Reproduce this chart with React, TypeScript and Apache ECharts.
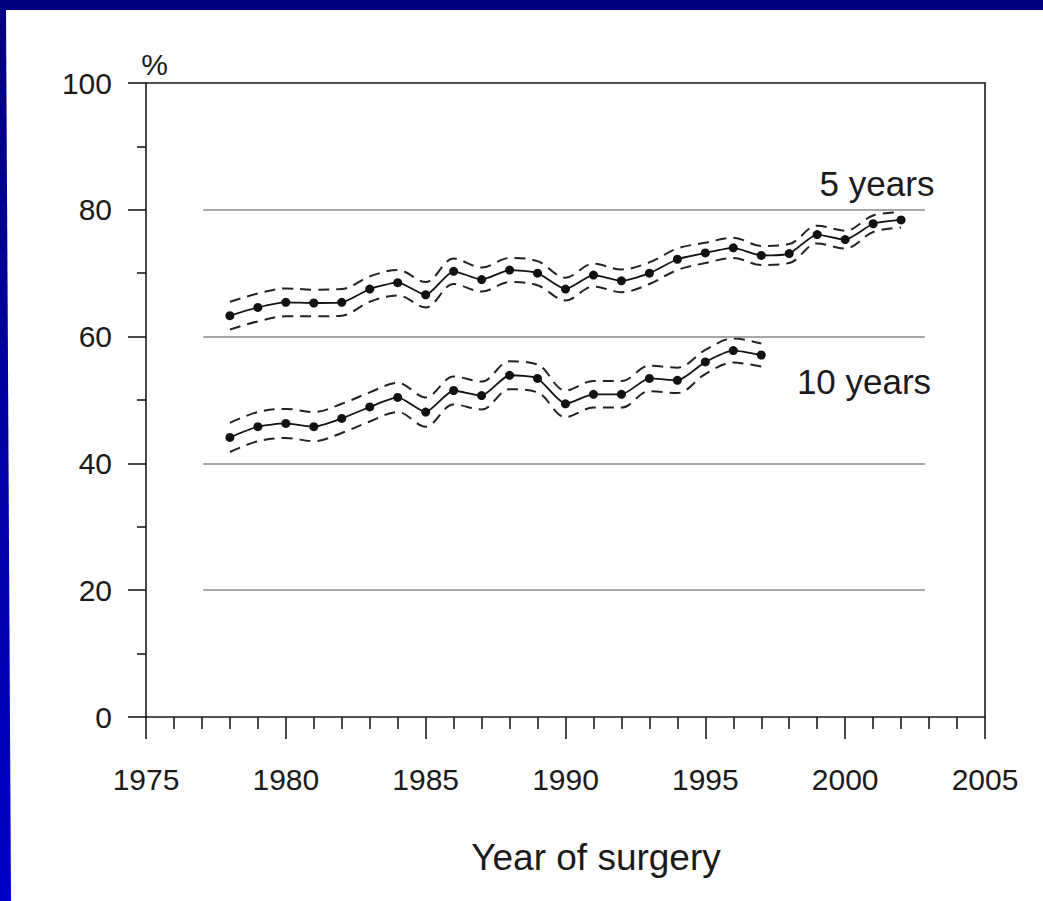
import React, { useEffect, useRef } from "react";
import * as echarts from "echarts";

// ---- data ----
const years5 = [1978, 1979, 1980, 1981, 1982, 1983, 1984, 1985, 1986, 1987, 1988, 1989, 1990, 1991, 1992, 1993, 1994, 1995, 1996, 1997, 1998, 1999, 2000, 2001, 2002];
const surv5 = [63.3, 64.6, 65.4, 65.3, 65.4, 67.5, 68.5, 66.6, 70.3, 69.0, 70.5, 70.0, 67.5, 69.7, 68.8, 70.0, 72.2, 73.2, 74.0, 72.8, 73.1, 76.1, 75.3, 77.8, 78.4];
const upper5 = [65.5, 66.8, 67.6, 67.4, 67.5, 69.5, 70.5, 68.6, 72.3, 70.9, 72.4, 71.9, 69.3, 71.5, 70.6, 71.7, 73.9, 74.8, 75.6, 74.3, 74.6, 77.5, 76.7, 79.1, 79.6];
const lower5 = [61.1, 62.4, 63.2, 63.2, 63.3, 65.5, 66.5, 64.6, 68.3, 67.1, 68.6, 68.1, 65.7, 67.9, 67.0, 68.3, 70.5, 71.6, 72.4, 71.3, 71.6, 74.7, 73.9, 76.5, 77.2];

const years10 = [1978, 1979, 1980, 1981, 1982, 1983, 1984, 1985, 1986, 1987, 1988, 1989, 1990, 1991, 1992, 1993, 1994, 1995, 1996, 1997];
const surv10 = [44.1, 45.8, 46.3, 45.8, 47.1, 48.9, 50.4, 48.1, 51.5, 50.7, 53.9, 53.4, 49.4, 50.9, 50.9, 53.4, 53.1, 56.0, 57.8, 57.1];
const upper10 = [46.4, 48.1, 48.6, 48.1, 49.4, 51.2, 52.7, 50.4, 53.7, 52.9, 56.1, 55.6, 51.5, 53.0, 53.0, 55.4, 55.1, 57.9, 59.7, 58.9];
const lower10 = [41.8, 43.5, 44.0, 43.5, 44.8, 46.6, 48.1, 45.8, 49.3, 48.5, 51.7, 51.2, 47.3, 48.8, 48.8, 51.4, 51.1, 54.1, 55.9, 55.3];

const gridLevels = [20, 40, 60, 80];
const gridSpan = [1977.05, 2002.85];

const xMin = 1975, xMax = 2005, xStep = 5;
const yMin = 0, yMax = 100, yStep = 20;

const FONT = "Liberation Sans";
const INK = "#1a1a1a";

const zip = (xs: number[], ys: number[]) => xs.map((x, i) => [x, ys[i]]);

function mainSeries(name: string, xs: number[], ys: number[]) {
  return {
    name,
    type: "line",
    data: zip(xs, ys),
    smooth: 0.2,
    symbol: "circle",
    symbolSize: 9,
    itemStyle: { color: "#111" },
    lineStyle: { color: "#111", width: 1.8 },
    z: 5,
  };
}
function bandSeries(name: string, xs: number[], ys: number[]) {
  return {
    name,
    type: "line",
    data: zip(xs, ys),
    smooth: 0.35,
    showSymbol: false,
    symbol: "none",
    lineStyle: { color: "#222", width: 2, type: [11, 7] },
    z: 4,
  };
}

export default function App() {
  const ref = useRef<HTMLDivElement>(null);
  useEffect(() => {
    const chart = echarts.init(ref.current!, null, { renderer: "svg" });
    const axisLine = { show: true, onZero: false, lineStyle: { color: INK, width: 1.6 } };
    chart.setOption({
      animation: false,
      backgroundColor: "transparent",
      grid: { left: 146, right: 58, top: 83, bottom: 184, containLabel: false },
      xAxis: [
        {
          type: "value",
          min: xMin,
          max: xMax,
          interval: xStep,
          axisLine,
          axisTick: { show: true, length: 22, lineStyle: { color: INK, width: 1.6 } },
          minorTick: { show: true, splitNumber: 5, length: 12, lineStyle: { color: INK, width: 1.6 } },
          splitLine: { show: false },
          axisLabel: { margin: 47, fontFamily: FONT, fontSize: 30, color: INK, formatter: (v: number) => String(v) },
        },
        {
          type: "value",
          position: "top",
          min: xMin,
          max: xMax,
          axisLine,
          axisTick: { show: false },
          axisLabel: { show: false },
          splitLine: { show: false },
        },
      ],
      yAxis: [
        {
          type: "value",
          min: yMin,
          max: yMax,
          interval: yStep,
          axisLine,
          axisTick: { show: true, length: 18, lineStyle: { color: INK, width: 1.6 } },
          minorTick: { show: true, splitNumber: 2, length: 9, lineStyle: { color: INK, width: 1.6 } },
          splitLine: { show: false },
          axisLabel: { margin: 34, fontFamily: FONT, fontSize: 30, color: INK, padding: [6, 0, 0, 0] },
        },
        {
          type: "value",
          position: "right",
          min: yMin,
          max: yMax,
          axisLine,
          axisTick: { show: false },
          axisLabel: { show: false },
          splitLine: { show: false },
        },
      ],
      series: [
        {
          name: "grid",
          type: "line",
          data: [],
          markLine: {
            silent: true,
            symbol: ["none", "none"],
            label: { show: false },
            lineStyle: { color: "#8a8a8a", width: 1.6, type: "solid" },
            data: gridLevels.map((l) => [{ coord: [gridSpan[0], l] }, { coord: [gridSpan[1], l] }]),
          },
        },
        bandSeries("5 years upper", years5, upper5),
        bandSeries("5 years lower", years5, lower5),
        mainSeries("5 years", years5, surv5),
        bandSeries("10 years upper", years10, upper10),
        bandSeries("10 years lower", years10, lower10),
        mainSeries("10 years", years10, surv10),
      ],
      graphic: [
        { type: "text", x: 154.5, y: 64.6, style: { text: "%", font: `30px "${FONT}"`, fill: INK, align: "center", verticalAlign: "middle" } },
        { type: "text", x: 877, y: 183.6, style: { text: "5 years", font: `35px "${FONT}"`, fill: INK, align: "center", verticalAlign: "middle" } },
        { type: "text", x: 864, y: 381.6, style: { text: "10 years", font: `35px "${FONT}"`, fill: INK, align: "center", verticalAlign: "middle" } },
        { type: "text", x: 596, y: 857.5, style: { text: "Year of surgery", font: `37px "${FONT}"`, fill: INK, align: "center", verticalAlign: "middle" } },
      ],
    });
    return () => chart.dispose();
  }, []);
  return (
    <div style={{ position: "fixed", left: 0, top: 0, width: 1043, height: 901, background: "linear-gradient(#000080, #0000c8)" }}>
      <div style={{ position: "absolute", left: 0, top: 0, width: 1043, height: 901, background: "#fff", clipPath: "polygon(6px 10px, 100% 10px, 100% 100%, 11px 100%)" }} />
      <div ref={ref} style={{ position: "absolute", left: 0, top: 0, width: 1043, height: 901 }} />
    </div>
  );
}
